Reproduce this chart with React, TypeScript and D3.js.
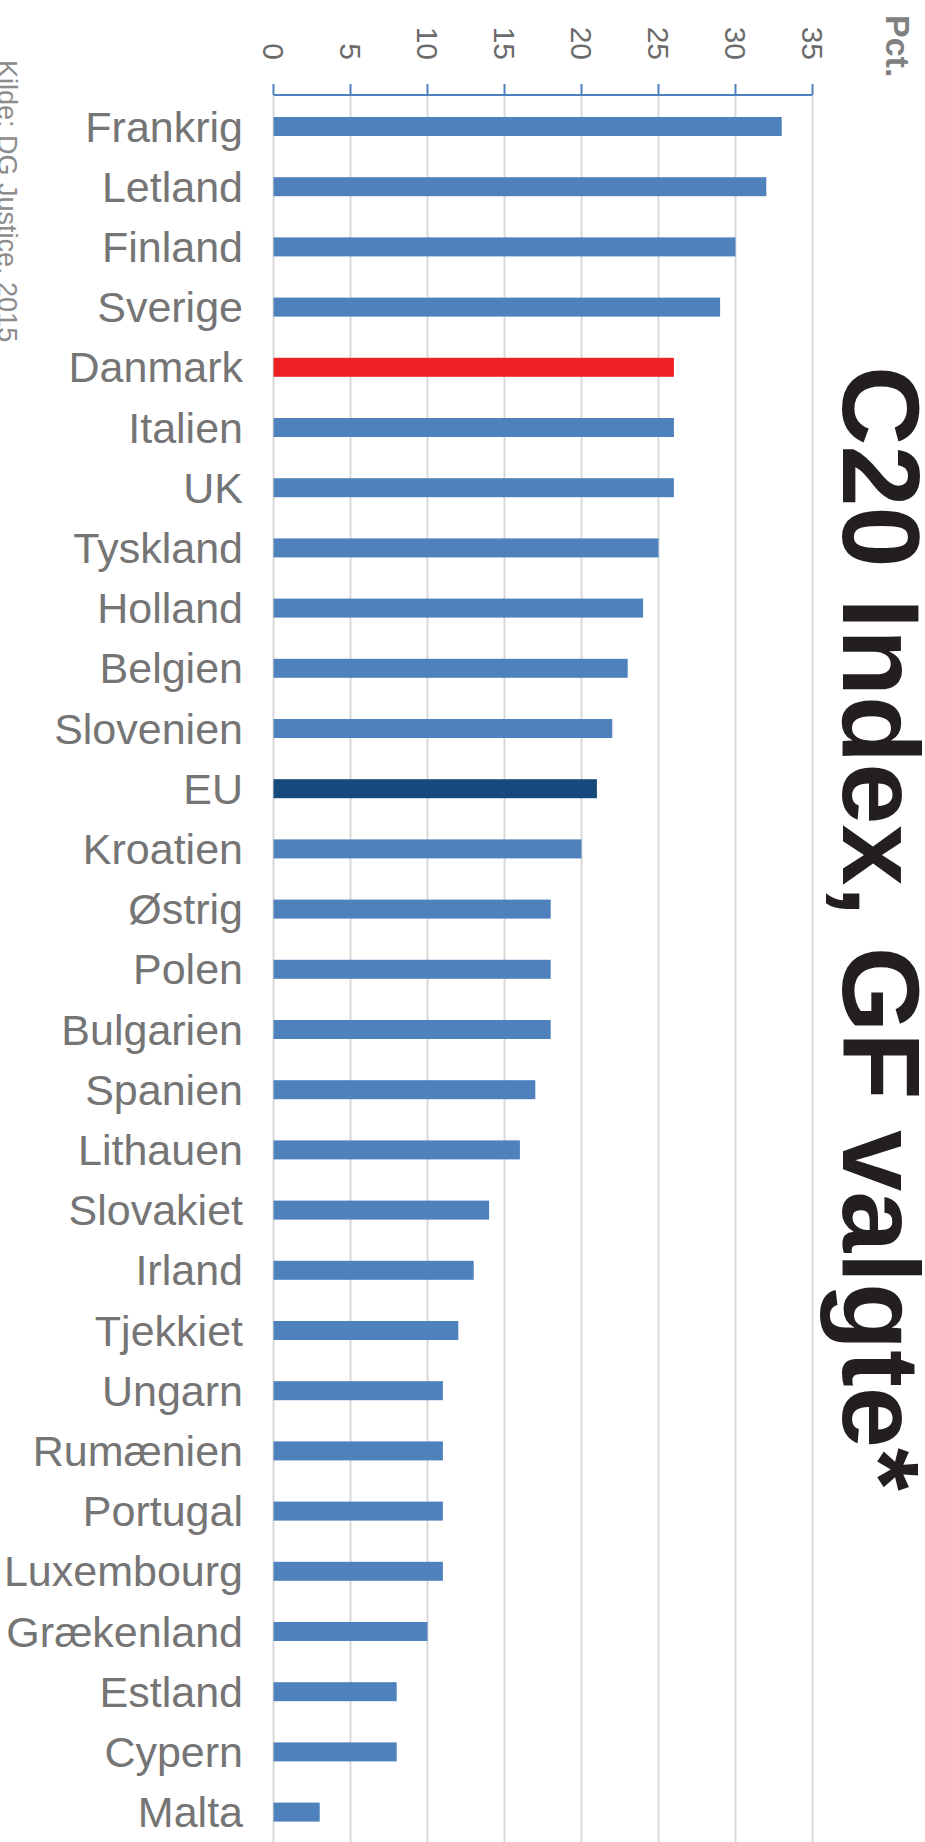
import React from "react";
import * as d3 from "d3";

const countries = [
  "Frankrig", "Letland", "Finland", "Sverige", "Danmark", "Italien", "UK", "Tyskland",
  "Holland", "Belgien", "Slovenien", "EU", "Kroatien", "Østrig", "Polen", "Bulgarien",
  "Spanien", "Lithauen", "Slovakiet", "Irland", "Tjekkiet", "Ungarn", "Rumænien",
  "Portugal", "Luxembourg", "Grækenland", "Estland", "Cypern", "Malta",
];
const values = [33, 32, 30, 29, 26, 26, 26, 25, 24, 23, 22, 21, 20, 18, 18, 18, 17, 16, 14, 13, 12, 11, 11, 11, 11, 10, 8, 8, 3];
const ticks = [0, 5, 10, 15, 20, 25, 30, 35];
const title = "C20 Index, GF valgte*";
const unitLabel = "Pct.";
const source = "Kilde: DG Justice, 2015";

const W = 925;
const H = 1842;

export default function App() {
  const x = d3.scaleLinear().domain([0, 35]).range([273.5, 812.5]);
  const pi = 1 - 19 / 60.2;
  const y = d3
    .scaleBand<string>()
    .domain(countries)
    .range([96.4, 96.4 + countries.length * 60.2])
    .paddingInner(pi)
    .paddingOuter(pi / 2);
  const axisY = 95;
  const colorOf = (c: string) =>
    c === "Danmark" ? "#ED2024" : c === "EU" ? "#174A7C" : "#4F81BD";
  const font = "'Liberation Sans', Arial, sans-serif";
  return (
    <svg
      width={W}
      height={H}
      style={{ position: "absolute", left: 0, top: 0, background: "#fff" }}
      fontFamily={font}
    >
      <rect x={0} y={0} width={W} height={H} fill="#fff" />
      {/* grid */}
      {ticks.map((t) => (
        <line key={"g" + t} x1={x(t)} x2={x(t)} y1={axisY + 1} y2={H} stroke="#D9D9D9" strokeWidth={2} />
      ))}
      {/* bars */}
      {countries.map((c, i) => (
        <rect
          key={c}
          x={x(0)}
          y={y(c)}
          width={x(values[i]) - x(0)}
          height={y.bandwidth()}
          fill={colorOf(c)}
        />
      ))}
      {/* axis */}
      <line x1={x(0)} x2={x(35)} y1={axisY} y2={axisY} stroke="#4F81BD" strokeWidth={2} />
      {ticks.map((t) => (
        <line key={"t" + t} x1={x(t)} x2={x(t)} y1={axisY - 11} y2={axisY} stroke="#4F81BD" strokeWidth={2} />
      ))}
      {ticks.map((t) => (
        <text
          key={"l" + t}
          transform={`translate(${x(t) - 0.358 * 30},60) rotate(90)`}
          textAnchor="end"
          fontSize={30}
          fill="#6b6b6b"
        >
          {t}
        </text>
      ))}
      {/* category labels */}
      {countries.map((c) => (
        <text
          key={"c" + c}
          x={243}
          y={(y(c) as number) + y.bandwidth() / 2}
          dy="0.35em"
          textAnchor="end"
          fontSize={43}
          fill="#757575"
        >
          {c}
        </text>
      ))}
      {/* title */}
      <text transform="translate(843,366) rotate(90)" fontSize={110} fontWeight="bold" fill="#231F20">
        {title}
      </text>
      <text transform="translate(886,15) rotate(90)" fontSize={34} fontWeight="bold" fill="#808080">
        {unitLabel}
      </text>
      <text transform="translate(-2,60) rotate(90)" fontSize={27} fill="#8c8c8c">
        {source}
      </text>
    </svg>
  );
}
